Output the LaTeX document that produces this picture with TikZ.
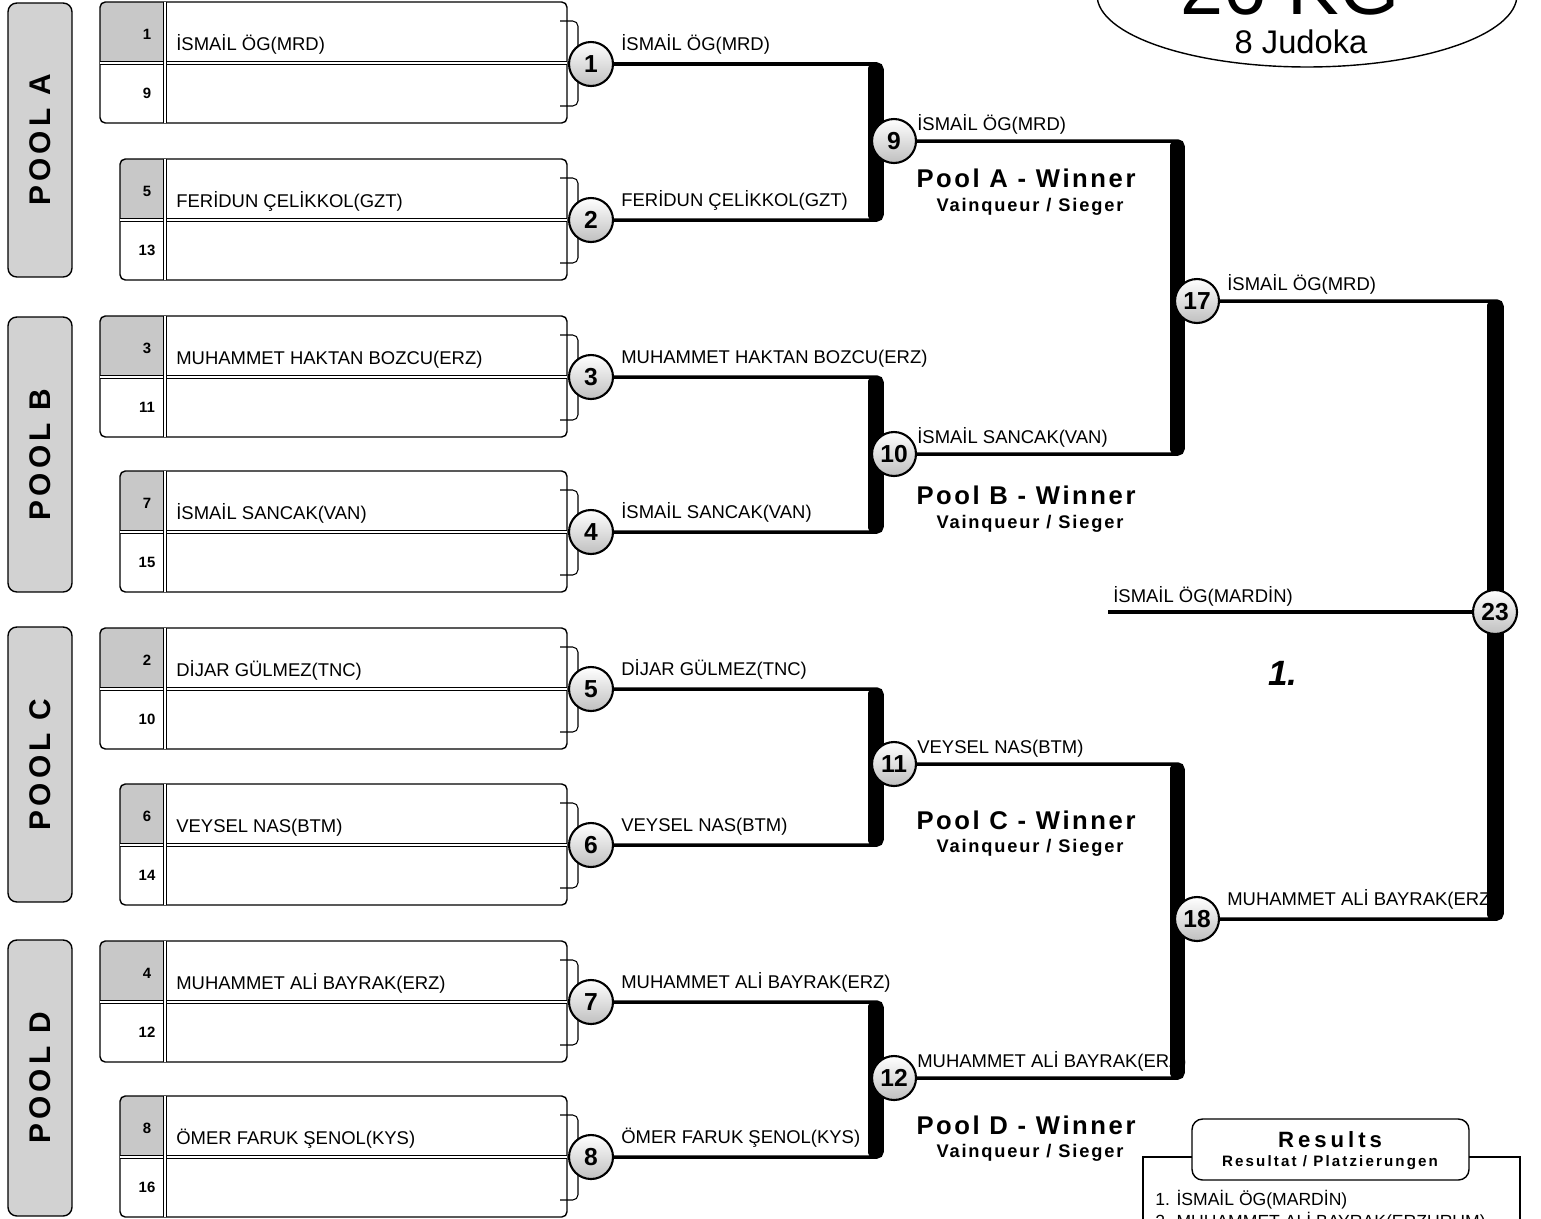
\documentclass[tikz,border=0pt]{standalone}
\usepackage{fontspec}
\setmainfont{Liberation Sans}
\usetikzlibrary{positioning,calc,shapes.geometric}

\definecolor{poolgray}{RGB}{210,210,210}
\definecolor{seedgray}{RGB}{200,200,200}

\pgfdeclarelayer{labels}
\pgfdeclarelayer{wires}
\pgfsetlayers{labels,wires,main}

\tikzset{
  poolbox/.style={draw,fill=poolgray,rounded corners=5pt,line width=0.8pt,inner sep=0pt,
    font=\bfseries\fontsize{17}{17}\selectfont\addfontfeatures{LetterSpace=14}},
  entry/.style={draw,line width=0.8pt,rounded corners=3pt},
  dline/.style={double,double distance=0.8pt,line width=0.5pt},
  tab/.style={draw,fill=white,line width=0.6pt,rounded corners=3pt},
  seednum/.style={font=\bfseries\fontsize{8.5}{9}\selectfont,inner sep=0pt},
  lab/.style={anchor=base west,inner sep=0pt,font=\fontsize{10.5}{12}\selectfont},
  bout/.style={circle,draw,line width=1.2pt,minimum size=0.88cm,inner sep=0pt,
    top color=white,middle color=white,bottom color=black!25,
    font=\bfseries\fontsize{14}{14}\selectfont},
  wire/.style={line width=2pt,rounded corners=3pt},
  winbar/.style={fill=black,rounded corners=3pt},
  winner/.style={inner sep=0pt,
    font=\bfseries\fontsize{14.6}{16}\selectfont\addfontfeatures{LetterSpace=10}},
  winsub/.style={inner sep=0pt,
    font=\bfseries\fontsize{10.4}{12}\selectfont\addfontfeatures{LetterSpace=10}},
}

\begin{document}
\begin{tikzpicture}[x=0.02cm,y=-0.02cm]
\useasboundingbox (0,0) rectangle (1541,1218);

% Pools
\node[poolbox,rotate=90,minimum width=5.48cm,minimum height=1.28cm] (poolA) at (40,140) {POOL A};
\node[poolbox,rotate=90,minimum width=5.5cm,minimum height=1.28cm] (poolB) at (40,454.5) {POOL B};
\node[poolbox,rotate=90,minimum width=5.5cm,minimum height=1.28cm] (poolC) at (40,764.5) {POOL C};
\node[poolbox,rotate=90,minimum width=5.52cm,minimum height=1.28cm] (poolD) at (40,1078) {POOL D};

% Entry sheets
\foreach \mid/\lft/\sa/\sb/\name [count=\i] in {
    63/100/1/9/İSMAİL ÖG(MRD),
    220/120/5/13/FERİDUN ÇELİKKOL(GZT),
    377/100/3/11/MUHAMMET HAKTAN BOZCU(ERZ),
    532/120/7/15/İSMAİL SANCAK(VAN),
    689/100/2/10/DİJAR GÜLMEZ(TNC),
    845/120/6/14/VEYSEL NAS(BTM),
    1002/100/4/12/MUHAMMET ALİ BAYRAK(ERZ),
    1157/120/8/16/ÖMER FARUK ŞENOL(KYS)}{
  \begin{scope}
    \clip[rounded corners=3pt] (\lft,\mid-61) rectangle (567,\mid+60);
    \fill[seedgray] (\lft,\mid-61) rectangle (165,\mid);
  \end{scope}
  \draw[tab] (560,\mid-42) -| (578,\mid+43) -- (560,\mid+43);
  \draw[entry] (\lft,\mid-61) rectangle (567,\mid+60);
  \draw[dline] (\lft,\mid) -- (567,\mid);
  \draw[dline] (165,\mid-61) -- (165,\mid+60);
  \node[seednum] (sa\i) at (147,\mid-29) {\sa};
  \node[seednum] (sb\i) at (147,\mid+30) {\sb};
  \node[lab] (n\i) at (176,\mid-13) {\name};
}

% Bouts
\foreach \y [count=\i] in {64,220,377,532,689,845,1002,1157}
  \node[bout] (m\i) at (591,\y) {\i};
\node[bout] (m9) at (894,141) {9};
\node[bout] (m10) at (894,454) {10};
\node[bout] (m11) at (894,764) {11};
\node[bout] (m12) at (894,1078) {12};
\node[bout] (m17) at (1197,301) {17};
\node[bout] (m18) at (1197,919) {18};
\node[bout] (m23) at (1495,612) {23};

\coordinate (r1) at (882,0);
\coordinate (r2) at (1183,0);
\coordinate (r3) at (1502,0);
\coordinate (fin) at (1108,612);

\begin{pgfonlayer}{wires}
\foreach \a/\b/\rr/\bw in {1/2/r1/14,3/4/r1/14,5/6/r1/14,7/8/r1/14,9/10/r2/13,11/12/r2/13,17/18/r3/15}{
  \draw[wire] (m\a) -- (m\a -| \rr) -- (m\b -| \rr) -- (m\b);
  \fill[winbar] ($(m\a -| \rr)+(-\bw,-1)$) rectangle ($(m\b -| \rr)+(0,1)$);
}
\draw[wire] (fin) -- (m23);
\end{pgfonlayer}

\begin{pgfonlayer}{labels}
\foreach \i/\name in {1/İSMAİL ÖG(MRD),2/FERİDUN ÇELİKKOL(GZT),3/MUHAMMET HAKTAN BOZCU(ERZ),
    4/İSMAİL SANCAK(VAN),5/DİJAR GÜLMEZ(TNC),6/VEYSEL NAS(BTM),
    7/MUHAMMET ALİ BAYRAK(ERZ),8/ÖMER FARUK ŞENOL(KYS)}
  \node[lab] (w\i) at ($(m\i)+(30,-14)$) {\name};
\foreach \i/\name in {9/İSMAİL ÖG(MRD),10/İSMAİL SANCAK(VAN),11/VEYSEL NAS(BTM),
    12/MUHAMMET ALİ BAYRAK(ERZ)}
  \node[lab] (w\i) at ($(m\i)+(23,-11)$) {\name};
\node[lab] (w17) at ($(m17)+(30,-11)$) {İSMAİL ÖG(MRD)};
\node[lab] (w18) at ($(m18)+(30,-14)$) {MUHAMMET ALİ BAYRAK(ERZ)};
\node[lab] (w23) at ($(fin)+(5,-10)$) {İSMAİL ÖG(MARDİN)};
\end{pgfonlayer}

% Pool winners
\node[winner] (winA) at (1026,178) {Pool A - Winner};
\node[winsub] (subA) at (1030,207) {Vainqueur / Sieger};
\node[winner] (winB) at (1026,495) {Pool B - Winner};
\node[winsub] (subB) at (1030,524) {Vainqueur / Sieger};
\node[winner] (winC) at (1026,820) {Pool C - Winner};
\node[winsub] (subC) at (1030,848) {Vainqueur / Sieger};
\node[winner] (winD) at (1026,1125) {Pool D - Winner};
\node[winsub] (subD) at (1030,1153) {Vainqueur / Sieger};

\node[anchor=base,inner sep=0pt,font=\bfseries\itshape\fontsize{20}{20}\selectfont] (place) at (1283,685) {1.};

% Category
\node[draw,ellipse,line width=0.8pt,minimum width=8.4cm,minimum height=2.88cm] (title) at (1307,-5) {};
\node[anchor=base,inner sep=0pt,font=\fontsize{44}{44}\selectfont] (kg) at (1290,14) {26 KG};
\node[anchor=base,inner sep=0pt,font=\fontsize{18.6}{20}\selectfont] (count) at (1301,53) {8 Judoka};

% Results
\draw[line width=0.8pt] (1143,1240) |- (1520,1157) -- (1520,1240);
\node[draw,fill=white,line width=0.8pt,rounded corners=6pt,minimum width=5.54cm,minimum height=1.22cm] (restab) at (1330.5,1149.5) {};
\node[inner sep=0pt,font=\bfseries\fontsize{12.6}{14}\selectfont\addfontfeatures{LetterSpace=18}] (reshead) at (1330,1140) {Results};
\node[inner sep=0pt,font=\bfseries\fontsize{8.6}{10}\selectfont\addfontfeatures{LetterSpace=14}] (ressub) at (1330,1163) {Resultat / Platzierungen};
\node[lab,font=\fontsize{10}{12}\selectfont] (res1) at (1155,1205) {1. İSMAİL ÖG(MARDİN)};
\node[lab,font=\fontsize{10}{12}\selectfont] (res2) at (1155,1227) {2. MUHAMMET ALİ BAYRAK(ERZURUM)};
\end{tikzpicture}
\end{document}
